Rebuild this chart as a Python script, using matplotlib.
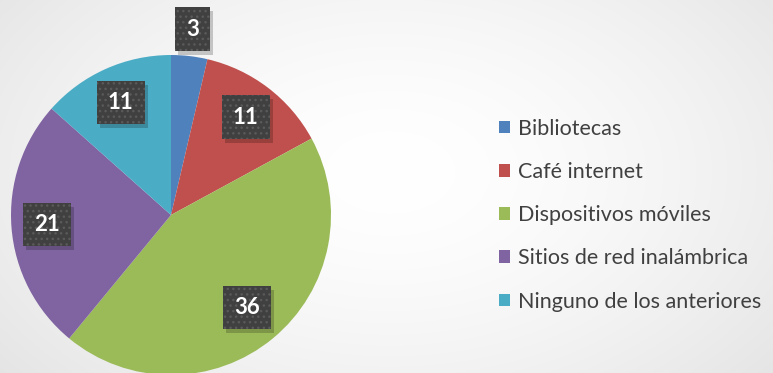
import numpy as np
import matplotlib.pyplot as plt
from matplotlib.patches import Patch, Rectangle

# datos
categorias = ['Bibliotecas', 'Café internet', 'Dispositivos móviles',
              'Sitios de red inalámbrica', 'Ninguno de los anteriores']
valores = [3, 11, 36, 21, 11]
colores = ['#4F81BD', '#C0504D', '#9BBB59', '#8064A2', '#4BACC6']
dist_etiquetas = [1.17, 0.77, 0.75, 0.78, 0.77]

W, H = 773, 373
plt.rcParams['font.family'] = ['Lato', 'DejaVu Sans']
plt.rcParams['hatch.linewidth'] = 1.0

fig = plt.figure(figsize=(W / 100, H / 100), dpi=100)
ax = fig.add_axes([0, 0, 1, 1])

# fondo con degradado radial
yy, xx = np.mgrid[0:H, 0:W]
d = np.hypot((xx - 390) / 520, (yy - 200) / 330)
fondo = 1.0 - 0.11 * np.clip(d, 0, 1) ** 1.6
ax.imshow(np.dstack([fondo] * 3), extent=(0, W, 0, H), origin='lower', zorder=0)

cx, cy, r = 171, H - 215, 160
wedges, _ = ax.pie(valores, colors=colores, startangle=90, counterclock=False,
                   center=(cx, cy), radius=r, frame=True,
                   wedgeprops=dict(linewidth=0))
for w in wedges:
    w.set_zorder(2)
ax.set_xlim(0, W)
ax.set_ylim(0, H)
ax.set_aspect('equal')
ax.axis('off')

# etiquetas de datos en cajas oscuras
total = sum(valores)
acum = 0
etiquetas = []
for v, k in zip(valores, dist_etiquetas):
    medio = 90 - (acum + v / 2) / total * 360
    acum += v
    x = cx + k * r * np.cos(np.radians(medio))
    y = cy + k * r * np.sin(np.radians(medio))
    t = ax.text(x, y, str(v), fontsize=16, fontweight='bold', color='white',
                ha='center', va='center', zorder=4,
                bbox=dict(boxstyle='square,pad=0.5', fc='#404040', ec='#5a5a5a',
                          lw=0, hatch='...'))
    etiquetas.append(t)

# sombra bajo cada caja
fig.canvas.draw()
inv = ax.transData.inverted()
for t in etiquetas:
    ext = t.get_bbox_patch().get_window_extent()
    (x0, y0), (x1, y1) = inv.transform([[ext.x0 + 3, ext.y0 - 4], [ext.x1 + 3, ext.y1 - 4]])
    ax.add_patch(Rectangle((x0, y0), x1 - x0, y1 - y0, fc='black', ec='none',
                           alpha=0.2, zorder=3))

handles = [Patch(facecolor=c, edgecolor='none') for c in colores]
ax.legend(handles, categorias, loc='upper left', bbox_to_anchor=(490 / W, 1 - 110 / H),
          frameon=False, fontsize=15.5, labelcolor='#404040',
          handlelength=0.55, handleheight=0.55, handletextpad=0.35,
          labelspacing=1.08, borderaxespad=0)

fig.savefig('out.png', dpi=100)
